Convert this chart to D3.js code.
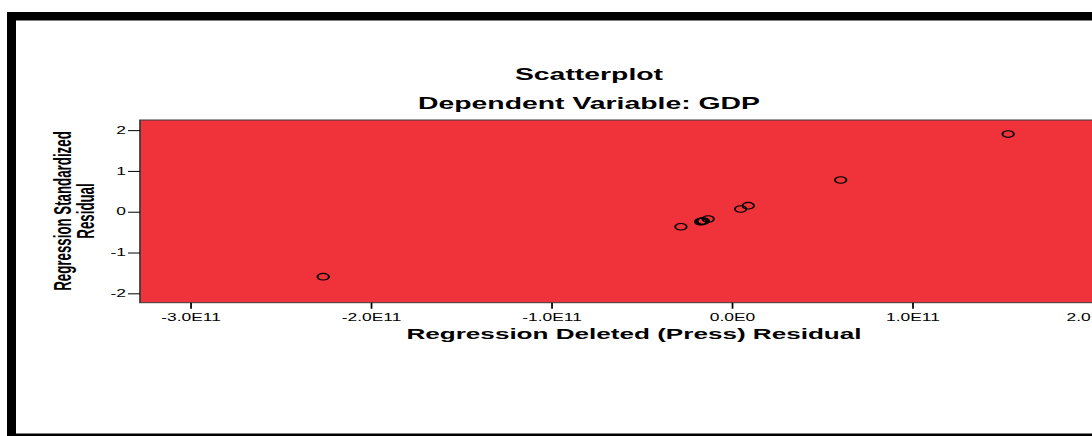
<!DOCTYPE html>
<html>
<head>
<meta charset="utf-8">
<script src="https://cdn.jsdelivr.net/npm/d3@7"></script>
<style>
  html, body { margin: 0; padding: 0; background: #fff; overflow: hidden; }
  svg { display: block; }
  text { font-family: "Liberation Sans", Arial, Helvetica, sans-serif; }
</style>
</head>
<body>
<svg id="chart" width="1092" height="436"></svg>
<script>
// Regression residuals: deleted (press) residual vs. standardized residual
const deletedResidual = [-2.263e11, -0.281e11, -0.172e11, -0.165e11, -0.157e11, -0.130e11, 0.050e11, 0.092e11, 0.604e11, 1.532e11];
const standardizedResidual = [-1.593, -0.368, -0.245, -0.235, -0.228, -0.179, 0.066, 0.147, 0.777, 1.904];

const xTickValues = [-3e11, -2e11, -1e11, 0, 1e11, 2e11];
const xTickLabels = ["-3.0E11", "-2.0E11", "-1.0E11", "0.0E0", "1.0E11", "2.0E11"];
const yTickValues = [-2, -1, 0, 1, 2];
const yTickLabels = ["-2", "-1", "0", "1", "2"];

const titleLines = ["Scatterplot", "Dependent Variable: GDP"];
const xTitle = "Regression Deleted (Press) Residual";
const yTitleLines = ["Regression Standardized", "Residual"];

// The chart is drawn in a horizontally stretched coordinate space.
const sx = 1.74;
const u = v => v / sx;

const svg = d3.select("#chart");

// Outer frame
svg.append("rect").attr("x", 0).attr("y", 0).attr("width", 1092).attr("height", 436).attr("fill", "#fff");
svg.append("rect").attr("x", 7).attr("y", 12).attr("width", 1200).attr("height", 8.5).attr("fill", "#000");
svg.append("rect").attr("x", 7).attr("y", 12).attr("width", 9).attr("height", 430).attr("fill", "#000");
svg.append("rect").attr("x", 7).attr("y", 433.5).attr("width", 1200).attr("height", 4).attr("fill", "#000");

const g = svg.append("g").attr("transform", `scale(${sx},1)`);

const plot = { left: 140, right: 1128, top: 120, bottom: 302.7 };

const x = d3.scaleLinear().domain([-3.278e11, 2.196e11]).range([u(plot.left), u(plot.right)]);
const y = d3.scaleLinear().domain([-2.23, 2.248]).range([plot.bottom, plot.top]);

// Plot background
g.append("rect")
  .attr("x", x.range()[0]).attr("y", plot.top)
  .attr("width", x.range()[1] - x.range()[0]).attr("height", plot.bottom - plot.top)
  .attr("fill", "#F0333A")
  .attr("stroke", "#3a3a3a").attr("stroke-width", 1);

// Axes
const xAxis = d3.axisBottom(x).tickValues(xTickValues)
  .tickFormat((d, i) => xTickLabels[i]).tickSize(6).tickPadding(5);
const xg = g.append("g").attr("transform", `translate(0,${plot.bottom})`).call(xAxis);
xg.select(".domain").remove();
xg.selectAll("line").attr("stroke", "#000");
xg.selectAll("text").attr("font-size", 10).attr("fill", "#000")
  .attr("font-family", "'Liberation Sans', Arial, sans-serif");

const yAxis = d3.axisLeft(y).tickValues(yTickValues)
  .tickFormat((d, i) => yTickLabels[i]).tickSize(u(12)).tickPadding(u(2))
const yg = g.append("g").attr("transform", `translate(${x.range()[0]},0)`).call(yAxis);
yg.select(".domain").remove();
yg.selectAll("line").attr("stroke", "#000");
yg.selectAll("text").attr("font-size", 10).attr("fill", "#000")
  .attr("font-family", "'Liberation Sans', Arial, sans-serif");

// Points
g.append("g").selectAll("circle")
  .data(deletedResidual.map((d, i) => [d, standardizedResidual[i]]))
  .join("circle")
  .attr("cx", d => x(d[0]))
  .attr("cy", d => y(d[1]))
  .attr("r", 3.3)
  .attr("fill", "none")
  .attr("stroke", "#000")
  .attr("stroke-width", 1.1);

// Titles
g.selectAll("text.title").data(titleLines).join("text")
  .attr("class", "title")
  .attr("x", u(589))
  .attr("y", (d, i) => 80 + i * 29)
  .attr("text-anchor", "middle")
  .attr("font-size", 16.3).attr("font-weight", "bold").attr("fill", "#000")
  .text(d => d);

g.append("text")
  .attr("x", u(634)).attr("y", 339)
  .attr("text-anchor", "middle")
  .attr("font-size", 15).attr("font-weight", "bold").attr("fill", "#000")
  .text(xTitle);

g.selectAll("text.ytitle").data(yTitleLines).join("text")
  .attr("class", "ytitle")
  .attr("transform", (d, i) => `translate(${u(71 + i * 23)},211) rotate(-90)`)
  .attr("text-anchor", "middle")
  .attr("font-size", 13.3).attr("font-weight", "bold").attr("fill", "#000")
  .text(d => d);
</script>
</body>
</html>
